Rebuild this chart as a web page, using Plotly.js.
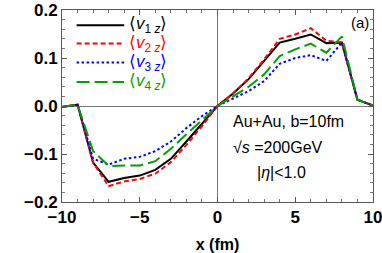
<!DOCTYPE html>
<html>
<head>
<meta charset="utf-8">
<script src="https://cdn.plot.ly/plotly-3.0.1.min.js"></script>
<style>html,body{margin:0;padding:0;background:#fff}#chart{width:382px;height:253px}</style>
</head>
<body>
<div id="chart"></div>
<script>
const xPos = [-10,-9,-8,-7,-6,-5,-4,-3,-2,-1,0,1,2,3,4,5,6,7,8,9,10];
const v1z = [-0.002,0.003,-0.118,-0.158,-0.150,-0.145,-0.133,-0.110,-0.074,-0.037,0,0.026,0.056,0.094,0.132,0.140,0.149,0.131,0.132,0.013,0.001];
const v2z = [-0.002,0.003,-0.118,-0.167,-0.157,-0.152,-0.141,-0.117,-0.081,-0.042,0,0.026,0.058,0.097,0.140,0.149,0.162,0.136,0.132,0.013,0.001];
const v3z = [-0.002,0.003,-0.110,-0.122,-0.110,-0.106,-0.094,-0.074,-0.046,-0.021,0,0.015,0.031,0.052,0.088,0.100,0.106,0.094,0.132,0.013,0.001];
const v4z = [-0.002,0.003,-0.094,-0.125,-0.124,-0.124,-0.115,-0.089,-0.059,-0.030,0,0.020,0.040,0.066,0.104,0.118,0.130,0.111,0.145,0.013,0.001];
const seriesNames = ['⟨<i>v</i><sub>1 <i>z</i></sub>⟩','⟨<i>v</i><sub>2 <i>z</i></sub>⟩','⟨<i>v</i><sub>3 <i>z</i></sub>⟩','⟨<i>v</i><sub>4 <i>z</i></sub>⟩'];
const xTickVals = [-10,-5,0,5,10];
const xTickText = ['−10','−5','0','5','10'];
const yTickVals = [-0.2,-0.1,0,0.1,0.2];
const yTickText = ['−0.2','−0.1','0.0','0.1','0.2'];

const colors = ['#000000','#ff0000','#0000ff','#00a000'];
const dashes = ['solid','5px,3px','2.5px,2.5px','13px,5px'];
const series = [v1z,v2z,v3z,v4z];

const traces = series.map((ys,i)=>({
  x: xPos, y: ys, type:'scatter', mode:'lines', name: seriesNames[i],
  line:{color:colors[i], width:2, dash:dashes[i]}, showlegend:false, hoverinfo:'skip'
}));

const font = {family:'"Liberation Sans", Arial, Helvetica, sans-serif', color:'#000'};

// legend drawn in paper coordinates
const legY = [0.92,0.825,0.726,0.625];
const shapes = legY.map((yy,i)=>({
  type:'line', xref:'paper', yref:'paper', x0:0.047, x1:0.2, y0:yy, y1:yy,
  line:{color:colors[i], width:2, dash:dashes[i]}
}));
const annotations = legY.map((yy,i)=>({
  xref:'paper', yref:'paper', x:0.21, y:yy, xanchor:'left', yanchor:'middle',
  text:seriesNames[i], showarrow:false, font:Object.assign({}, font, {size:17, color:colors[i]})
}));
annotations.push(
  {xref:'paper', yref:'paper', x:0.995, y:0.935, xanchor:'right', yanchor:'middle', text:'(a)', showarrow:false, font:Object.assign({}, font, {size:15})},
  {xref:'paper', yref:'paper', x:0.545, y:0.42, xanchor:'left', yanchor:'middle', text:'Au+Au, b=10fm', showarrow:false, font:Object.assign({}, font, {size:16})},
  {xref:'paper', yref:'paper', x:0.545, y:0.285, xanchor:'left', yanchor:'middle', text:'√<i>s</i> =200GeV', showarrow:false, font:Object.assign({}, font, {size:16})},
  {xref:'paper', yref:'paper', x:0.62, y:0.155, xanchor:'left', yanchor:'middle', text:'|<i>η</i>|<1.0', showarrow:false, font:Object.assign({}, font, {size:16})}
);

const axisCommon = {
  showline:true, mirror:'allticks', linecolor:'#555', linewidth:1,
  ticks:'inside', ticklen:5, tickcolor:'#555', tickwidth:1,
  showgrid:false, zeroline:true, zerolinecolor:'#777', zerolinewidth:1,
  ticklabeloverflow:'allow',
  tickfont:Object.assign({}, font, {size:17, weight:'bold'}),
  minor:{ticks:'inside', ticklen:3, tickcolor:'#777', tickwidth:1, showgrid:false}
};

const layout = {
  width:382, height:253,
  margin:{l:62, r:9, t:10, b:51},
  paper_bgcolor:'#fff', plot_bgcolor:'#fff',
  font: font,
  showlegend:false,
  xaxis: Object.assign({}, axisCommon, {
    range:[-10,10], tickmode:'array', tickvals:xTickVals, ticktext:xTickText,
    minor:Object.assign({}, axisCommon.minor, {dtick:1}),
    automargin:false,
    title:{text:'<b>x (fm)</b>', font:Object.assign({}, font, {size:16}), standoff:34}
  }),
  yaxis: Object.assign({}, axisCommon, {
    range:[-0.2,0.2], tickmode:'array', tickvals:yTickVals, ticktext:yTickText,
    automargin:false,
    minor:Object.assign({}, axisCommon.minor, {tickmode:'linear', tick0:0, dtick:0.02})
  }),
  shapes: shapes,
  annotations: annotations
};

Plotly.newPlot('chart', traces, layout, {staticPlot:true, displayModeBar:false});
</script>
</body>
</html>
